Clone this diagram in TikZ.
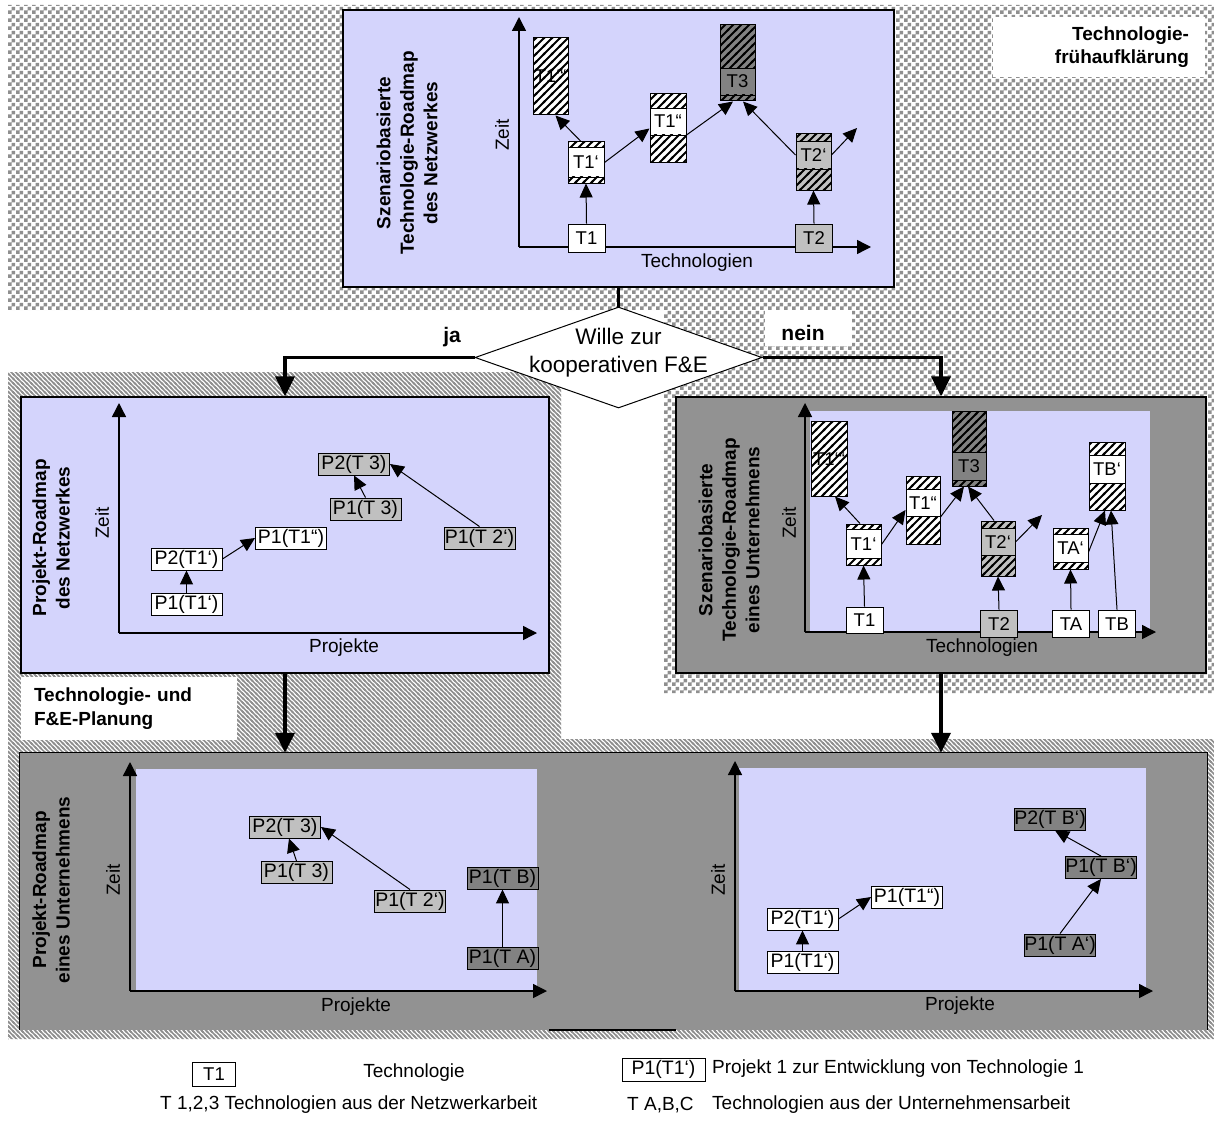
\documentclass[tikz,border=0pt]{standalone}
\usepackage{fontspec}
\setmainfont{Liberation Sans}
\usetikzlibrary{arrows.meta,shapes.geometric,patterns}
\definecolor{lav}{RGB}{212,212,252}
\definecolor{dkg}{RGB}{146,146,146}
\definecolor{ltg}{RGB}{192,192,192}
\definecolor{mdg}{RGB}{130,130,130}
\definecolor{chkg}{RGB}{143,143,143}
\pgfdeclarepatternformonly{chk}{\pgfqpoint{0pt}{0pt}}{\pgfqpoint{8pt}{8pt}}{\pgfqpoint{8pt}{8pt}}{%
  \pgfpathrectangle{\pgfqpoint{0pt}{0pt}}{\pgfqpoint{4pt}{4pt}}%
  \pgfpathrectangle{\pgfqpoint{4pt}{4pt}}{\pgfqpoint{4pt}{4pt}}%
  \pgfusepath{fill}}
\pgfdeclarepatternformonly{rdiag}{\pgfqpoint{-1pt}{-1pt}}{\pgfqpoint{5.5pt}{5.5pt}}{\pgfqpoint{4.5pt}{4.5pt}}{%
  \pgfsetlinewidth{1.6pt}%
  \pgfpathmoveto{\pgfqpoint{0pt}{4.5pt}}\pgfpathlineto{\pgfqpoint{4.5pt}{0pt}}%
  \pgfpathmoveto{\pgfqpoint{-1pt}{1pt}}\pgfpathlineto{\pgfqpoint{1pt}{-1pt}}%
  \pgfpathmoveto{\pgfqpoint{3.5pt}{5.5pt}}\pgfpathlineto{\pgfqpoint{5.5pt}{3.5pt}}%
  \pgfusepath{stroke}}
\pgfdeclarepatternformonly{tdiag}{\pgfqpoint{-1pt}{-1pt}}{\pgfqpoint{9pt}{9pt}}{\pgfqpoint{8pt}{8pt}}{%
  \pgfsetlinewidth{2pt}%
  \pgfpathmoveto{\pgfqpoint{0pt}{0pt}}\pgfpathlineto{\pgfqpoint{8pt}{8pt}}%
  \pgfpathmoveto{\pgfqpoint{-1pt}{7pt}}\pgfpathlineto{\pgfqpoint{1pt}{9pt}}%
  \pgfpathmoveto{\pgfqpoint{7pt}{-1pt}}\pgfpathlineto{\pgfqpoint{9pt}{1pt}}%
  \pgfusepath{stroke}}
\newcommand\myfsn{\fontsize{19}{22}\selectfont}
\newcommand\myfst{\fontsize{18.5}{22}\selectfont}
\newcommand\myfsp{\fontsize{19.5}{22}\selectfont}
\newcommand\myfsb{\bfseries\fontsize{19}{23.5}\selectfont}
\newcommand\myfsj{\bfseries\fontsize{21}{25}\selectfont}
\newcommand\myfsd{\fontsize{22.5}{28}\selectfont}
% stacked technology box: name, x1, x2, ytop, yband1, yband2, ybottom, fill, label
\newcommand{\stk}[9]{%
  \fill[#8] (#2,#4) rectangle (#3,#7);
  \node[tl] (#1l) at ({(#2+#3)/2},{(#5+#6)/2}) {#9};
  \fill[pattern=tdiag] (#2,#4) rectangle (#3,#5);
  \fill[pattern=tdiag] (#2,#6) rectangle (#3,#7);
  \draw[line width=0.8pt] (#2,#5) -- (#3,#5) (#2,#6) -- (#3,#6);
  \node[draw, line width=1pt, inner sep=0pt, minimum width={(#3-#2)*1pt}, minimum height={(#7-#4)*1pt}] (#1) at ({(#2+#3)/2},{(#4+#7)/2}) {};
}
% fully hatched box: name, x1, x2, ytop, ybottom, label
\newcommand{\stkall}[6]{%
  \fill[white] (#2,#4) rectangle (#3,#5);
  \node[tl] (#1l) at ({(#2+#3)/2},{(#4+#5)/2}) {#6};
  \fill[pattern=tdiag] (#2,#4) rectangle (#3,#5);
  \node[draw, line width=1pt, inner sep=0pt, minimum width={(#3-#2)*1pt}, minimum height={(#5-#4)*1pt}] (#1) at ({(#2+#3)/2},{(#4+#5)/2}) {};
}
\begin{document}
\begin{tikzpicture}[x=1pt,y=-1pt,
  tl/.style={inner sep=0pt, font=\myfst, text height=13pt, text depth=0pt},
  tn/.style={draw=black, line width=0.9pt, inner sep=0pt, font=\myfst, text height=13pt, text depth=0pt, minimum width=37pt, minimum height=28pt},
  pn/.style={draw=black, line width=0.9pt, inner sep=0pt, font=\myfsp, text height=14pt, text depth=3.5pt, minimum width=71pt, minimum height=22pt},
  lbl/.style={inner sep=0pt, font=\myfsn},
  ttl/.style={inner sep=0pt, font=\myfsb, align=center, rotate=90},
  zeit/.style={inner sep=0pt, font=\myfsn, rotate=90},
  arr/.style={line width=1pt, -{Triangle[length=14pt,width=13pt]}},
  axis/.style={line width=1.4pt, -{Triangle[length=14pt,width=14pt]}},
  thk/.style={line width=3.5pt},
  thka/.style={line width=3.5pt, -{Triangle[length=20pt,width=19pt]}},
  bigbox/.style={line width=1.2pt, inner sep=0pt}
]
\useasboundingbox (0,0) rectangle (1214,1126);
\fill[white] (0,0) rectangle (1214,1126);

% background regions
\fill[pattern=chk, pattern color=chkg] (8,5) -- (1214,5) -- (1214,693) -- (664,693) -- (664,310) -- (8,310) -- cycle;
\fill[pattern=rdiag, pattern color=chkg] (8,372) -- (561,372) -- (561,739) -- (1214,739) -- (1214,1039) -- (8,1039) -- cycle;

\node[fill=white, minimum width=212pt, minimum height=60pt, inner sep=0pt, text width=180pt, align=right, font=\myfsb] (tfa) at (1099,47) {Technologie-\\frühaufklärung};
\node[fill=white, minimum width=216pt, minimum height=63pt, inner sep=0pt, text width=190pt, align=left, font=\myfsb] (fep) at (129,708.5) {Technologie- und\\F\&E-Planung};
\fill[white] (765,310) rectangle (852,346);
\node[font=\myfsj, inner sep=0pt, anchor=base] (nein) at (803,340) {nein};
\node[font=\myfsj, inner sep=0pt, anchor=base] (ja) at (452,342) {ja};

% ===== top box =====
\node[draw, fill=lav, bigbox, minimum width=551pt, minimum height=277pt] (topbox) at (618.5,148.5) {};
\node[ttl] (ttop) at (407,153) {Szenariobasierte\\Technologie-Roadmap\\des Netzwerkes};
\node[zeit] (tzeit) at (502,135) {Zeit};
\node[lbl] (ttech) at (697,263) {Technologien};
\coordinate (tO) at (519,247); \coordinate (tY) at (519,17); \coordinate (tX) at (871,247);
\draw[axis] (tO) -- (tY);
\draw[axis] (tO) -- (tX);
\stkall{tT1ppp}{533}{568}{38}{115}{T1‘“}
\stk{tT1p}{568}{604}{142}{147}{177}{183}{white}{T1‘}
\stk{tT1pp}{650}{686}{94}{108}{135}{163}{white}{T1“}
\stk{tT3}{720}{755}{25}{68}{95}{101}{mdg}{T3}
\stk{tT2p}{796}{831}{134}{141}{169}{190}{ltg}{T2‘}
\node[tn, fill=white] (tT1) at (586.5,238) {T1};
\node[tn, fill=ltg] (tT2) at (814,238) {T2};
\coordinate (tFree) at (857,128);
\draw[arr] (tT1.north) -- (tT1p.south);
\draw[arr] ([xshift=-5pt]tT1p.north) -- ([xshift=5pt]tT1ppp.south);
\draw[arr] (tT1p.east) -- (tT1pp.west);
\draw[arr] ([yshift=-6.5pt]tT1pp.east) -- ([xshift=-4.5pt]tT3.south);
\draw[arr] ([yshift=7pt]tT2p.west) -- ([xshift=5.5pt]tT3.south);
\draw[arr] ([yshift=7pt]tT2p.east) -- (tFree);
\draw[arr] (tT2.north) -- (tT2p.south);

% ===== diamond =====
\node[diamond, draw, fill=white, line width=1pt, inner sep=0pt, minimum width=287pt, minimum height=101pt] (dia) at (618.5,357.5) {};
\node[font=\myfsd, align=center, inner sep=0pt] (diat) at (618.5,353) {Wille zur\\kooperativen F\&E};

% ===== left box: Projekt-Roadmap des Netzwerkes =====
\node[draw, fill=lav, bigbox, minimum width=528pt, minimum height=276pt] (lbox) at (285,535) {};
\node[ttl] (tleft) at (51,538) {Projekt-Roadmap\\des Netzwerkes};
\node[zeit] (lzeit) at (102,523) {Zeit};
\node[lbl] (lproj) at (344,648) {Projekte};
\coordinate (lO) at (119,633); \coordinate (lY) at (119,403); \coordinate (lX) at (537,633);
\draw[axis] (lO) -- (lY);
\draw[axis] (lO) -- (lX);
\node[pn, fill=white] (lP1a) at (186.5,604) {P1(T1‘)};
\node[pn, fill=white] (lP2a) at (186.5,559) {P2(T1‘)};
\node[pn, fill=white] (lP1b) at (291,538) {P1(T1“)};
\node[pn, fill=ltg] (lP1c) at (365.5,509) {P1(T 3)};
\node[pn, fill=ltg] (lP2c) at (354,464) {P2(T 3)};
\node[pn, fill=ltg] (lP1d) at (479.5,538) {P1(T 2‘)};
\draw[arr] (lP1a.north) -- (lP2a.south);
\draw[arr] (lP2a.east) -- (lP1b.west);
\draw[arr] (lP1c.north) -- (lP2c.south);
\draw[arr] (lP1d.north) -- (lP2c.east);

% ===== right box: Szenariobasierte Technologie-Roadmap eines Unternehmens =====
\node[draw, fill=dkg, bigbox, minimum width=530pt, minimum height=276pt] (rbox) at (941,535) {};
\fill[lav] (810,411) rectangle (1150,632);
\node[ttl] (tright) at (729,540) {Szenariobasierte\\Technologie-Roadmap\\eines Unternehmens};
\node[zeit] (rzeit) at (789,523) {Zeit};
\node[lbl] (rtech) at (982,648) {Technologien};
\coordinate (rO) at (805,632); \coordinate (rY) at (805,403); \coordinate (rX) at (1156,632);
\draw[axis] (rO) -- (rY);
\draw[axis] (rO) -- (rX);
\stkall{rT1ppp}{811}{847}{421}{496}{T1‘“}
\stk{rT1p}{846}{881}{524}{529}{558}{565}{white}{T1‘}
\stk{rT1pp}{906}{940}{476}{489}{516}{544}{white}{T1“}
\stk{rT3}{952}{986}{411}{452}{480}{486}{mdg}{T3}
\stk{rT2p}{981}{1015}{521}{528}{555}{576}{ltg}{T2‘}
\stk{rTAp}{1053}{1088}{528}{534}{562}{569}{white}{TA‘}
\stk{rTBp}{1089}{1125}{442}{455}{483}{510}{white}{TB‘}
\node[tn, fill=white, minimum height=26pt] (rT1) at (864.5,620) {T1};
\node[tn, fill=ltg, minimum height=27pt] (rT2) at (999,623.5) {T2};
\node[tn, fill=white, minimum height=27pt] (rTA) at (1071,623.5) {TA};
\node[tn, fill=white, minimum height=27pt] (rTB) at (1117,623.5) {TB};
\coordinate (rFree) at (1042,515);
\draw[arr] (rT1.north) -- (rT1p.south);
\draw[arr] ([xshift=-3.5pt]rT1p.north) -- ([xshift=6pt]rT1ppp.south);
\draw[arr] (rT1p.east) -- (rT1pp.west);
\draw[arr] ([yshift=-7pt]rT1pp.east) -- ([xshift=-5pt]rT3.south);
\draw[arr] ([xshift=-4pt]rT2p.north) -- ([xshift=-1pt]rT3.south);
\draw[arr] ([yshift=6.5pt]rT2p.east) -- (rFree);
\draw[arr] (rT2.north) -- (rT2p.south);
\draw[arr] (rTA.north) -- (rTAp.south);
\draw[arr] ([yshift=-3.5pt]rTAp.east) -- ([xshift=-2pt]rTBp.south);
\draw[arr] (rTB.north) -- ([xshift=4pt]rTBp.south);

% ===== bottom band =====
\node[fill=dkg, inner sep=0pt, minimum width=1187pt, minimum height=277pt] (band) at (613.5,891.5) {};
\draw[line width=1.2pt] (band.south west) -- (band.north west) -- (band.north east) -- (band.south east);
\draw[line width=1.2pt] (549,1030) -- (676,1030);
\node[ttl] (tbot) at (51,890) {Projekt-Roadmap\\eines Unternehmens};

% bottom-left panel
\fill[lav] (136,769) rectangle (537,990);
\node[zeit] (bzeit) at (113,880) {Zeit};
\node[lbl] (bproj) at (356,1007) {Projekte};
\coordinate (bO) at (130,991); \coordinate (bY) at (130,762); \coordinate (bX) at (547,991);
\draw[axis] (bO) -- (bY);
\draw[axis] (bO) -- (bX);
\node[pn, fill=ltg] (bP2c) at (285,827) {P2(T 3)};
\node[pn, fill=ltg] (bP1c) at (296.5,872.5) {P1(T 3)};
\node[pn, fill=ltg] (bP1d) at (410,901) {P1(T 2‘)};
\node[pn, fill=mdg] (bP1B) at (502.5,878) {P1(T B)};
\node[pn, fill=mdg] (bP1A) at (502.5,958) {P1(T A)};
\draw[arr] (bP1c.north) -- ([xshift=4pt]bP2c.south);
\draw[arr] (bP1d.north) -- (bP2c.east);
\draw[arr] (bP1A.north) -- (bP1B.south);

% bottom-right panel
\fill[lav] (739,768) rectangle (1146,990);
\node[zeit] (czeit) at (718,880) {Zeit};
\node[lbl] (cproj) at (960,1006) {Projekte};
\coordinate (cO) at (735,991); \coordinate (cY) at (735,761); \coordinate (cX) at (1153,991);
\draw[axis] (cO) -- (cY);
\draw[axis] (cO) -- (cX);
\node[pn, fill=white] (cP1a) at (802.5,962) {P1(T1‘)};
\node[pn, fill=white] (cP2a) at (802.5,919) {P2(T1‘)};
\node[pn, fill=white] (cP1b) at (907,897) {P1(T1“)};
\node[pn, fill=mdg] (cP2B) at (1050,819) {P2(T B‘)};
\node[pn, fill=mdg] (cP1B) at (1101,867.5) {P1(T B‘)};
\node[pn, fill=mdg] (cP1A) at (1060,945) {P1(T A‘)};
\draw[arr] (cP1a.north) -- (cP2a.south);
\draw[arr] (cP2a.east) -- (cP1b.west);
\draw[arr] (cP1B.north) -- ([xshift=5pt]cP2B.south);
\draw[arr] (cP1A.north) -- (cP1B.south);

% ===== main connectors =====
\draw[thk] (topbox.south) -- (dia.north);
\draw[thka] (dia.west) -| (lbox.north);
\draw[thka] (dia.east) -| (rbox.north);
\draw[thka] (lbox.south) -- (lbox.south |- band.north);
\draw[thka] (rbox.south) -- (rbox.south |- band.north);

% ===== legend =====
\node[tn, fill=white, minimum width=43pt, minimum height=24pt] (lgT) at (214,1074) {T1};
\node[lbl] (lgTt) at (414,1073) {Technologie};
\node[pn, fill=white, minimum width=83pt, minimum height=23pt] (lgP) at (663.5,1069.5) {P1(T1‘)};
\node[lbl, anchor=west] (lgPt) at (712,1069) {Projekt 1 zur Entwicklung von Technologie 1};
\node[lbl, anchor=west] (lg3) at (160,1105) {T 1,2,3 Technologien aus der Netzwerkarbeit};
\node[lbl, anchor=west] (lgA) at (627,1105) {T A,B,C};
\node[lbl, anchor=west] (lgAt) at (712,1105) {Technologien aus der Unternehmensarbeit};
\end{tikzpicture}
\end{document}
